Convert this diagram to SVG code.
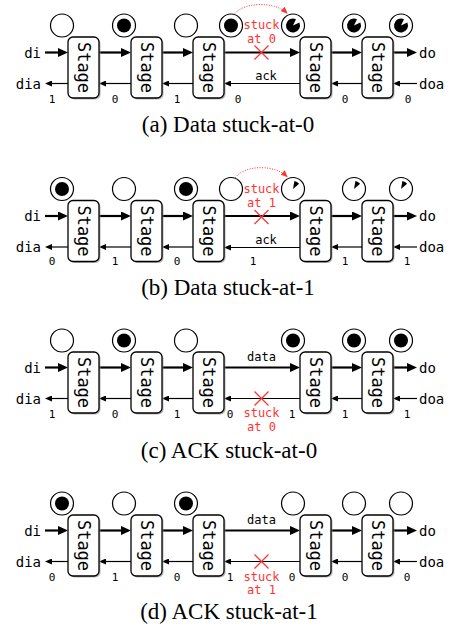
<svg xmlns="http://www.w3.org/2000/svg" xmlns:xlink="http://www.w3.org/1999/xlink" width="452" height="626" viewBox="0 0 452 626">
<style>
.sh{fill:#999;opacity:.7}
.stage rect.b{fill:#fff;stroke:#000;stroke-width:1.3}
.stage text{font-family:"DejaVu Sans Mono",monospace;font-size:17px;text-anchor:middle;dominant-baseline:central;fill:#000}
.pl{fill:#fff;stroke:#000;stroke-width:1.2}
.data{stroke:#000;stroke-width:2.2;marker-end:url(#hd)}
.ack{stroke:#000;stroke-width:1.2;marker-end:url(#ha)}
.io{font-family:"DejaVu Sans Mono",monospace;font-size:14px;fill:#000}
.num{font-family:"DejaVu Sans Mono",monospace;font-size:11px;text-anchor:middle;fill:#000}
.lbl{font-family:"DejaVu Sans Mono",monospace;font-size:12px;text-anchor:middle;fill:#000}
.stk{font-family:"DejaVu Sans Mono",monospace;font-size:12px;text-anchor:middle;fill:#f33}
.x{stroke:#f33;stroke-width:1.3}
.dot{fill:none;stroke:#f33;stroke-width:1;stroke-dasharray:1 1.5;marker-end:url(#hr)}
.cap{font-family:"Liberation Serif","Times New Roman",serif;font-size:23px;text-anchor:middle;fill:#000}
</style>
<defs>
<marker id="hd" markerUnits="userSpaceOnUse" markerWidth="10" markerHeight="9" viewBox="0 0 10 9" refX="1" refY="4.5" orient="auto"><path d="M0,0 L10,4.5 L0,9 z" fill="#000"/></marker>
<marker id="ha" markerUnits="userSpaceOnUse" markerWidth="7" markerHeight="6" viewBox="0 0 7 6" refX="1" refY="3" orient="auto"><path d="M0,0 L7,3 L0,6 z" fill="#000"/></marker>
<marker id="hr" markerUnits="userSpaceOnUse" markerWidth="7" markerHeight="6" viewBox="0 0 7 6" refX="6" refY="3" orient="auto"><path d="M0,0 L7,3 L0,6 z" fill="#f33"/></marker>
<circle id="tok" r="7" fill="#000"/>
<path id="pac" d="M0,0 L6.34,-2.96 A7,7 0 1 1 2.96,-6.34 Z" fill="#000"/>
<path id="wed" d="M0,0 L1.39,-7.88 A8,8 0 0 1 6.13,-5.14 Z" fill="#000"/>
</defs>
<rect width="452" height="626" fill="#fff"/>

<!-- ================= Panel a ================= -->
<g id="panel-a">
<g id="a-connectors">
<line class="data" x1="45" y1="52.5" x2="59" y2="52.5"/>
<line class="data" x1="99" y1="52.5" x2="122" y2="52.5"/>
<line class="data" x1="162" y1="52.5" x2="184" y2="52.5"/>
<line class="data" x1="224" y1="52.5" x2="291" y2="52.5"/>
<line class="data" x1="331" y1="52.5" x2="353" y2="52.5"/>
<line class="data" x1="393" y1="52.5" x2="408" y2="52.5"/>
<line class="ack" x1="68" y1="83.5" x2="51" y2="83.5"/>
<line class="ack" x1="131" y1="83.5" x2="105" y2="83.5"/>
<line class="ack" x1="193" y1="83.5" x2="168" y2="83.5"/>
<line class="ack" x1="300" y1="83.5" x2="230" y2="83.5"/>
<line class="ack" x1="362" y1="83.5" x2="337" y2="83.5"/>
<line class="ack" x1="417" y1="83.5" x2="399" y2="83.5"/>
<path class="dot" d="M234,14.5 C243,2 274,1 287,13"/>
</g>
<g id="a-stage1" class="stage"><rect class="sh" x="69.5" y="38.5" width="31" height="61" rx="5"/><rect class="b" x="68" y="37" width="31" height="61" rx="5"/><text x="83.5" y="67.5" transform="rotate(90 83.5 67.5)">Stage</text></g>
<g id="a-stage2" class="stage"><rect class="sh" x="132.5" y="38.5" width="31" height="61" rx="5"/><rect class="b" x="131" y="37" width="31" height="61" rx="5"/><text x="146.5" y="67.5" transform="rotate(90 146.5 67.5)">Stage</text></g>
<g id="a-stage3" class="stage"><rect class="sh" x="194.5" y="38.5" width="31" height="61" rx="5"/><rect class="b" x="193" y="37" width="31" height="61" rx="5"/><text x="208.5" y="67.5" transform="rotate(90 208.5 67.5)">Stage</text></g>
<g id="a-stage4" class="stage"><rect class="sh" x="301.5" y="38.5" width="31" height="61" rx="5"/><rect class="b" x="300" y="37" width="31" height="61" rx="5"/><text x="315.5" y="67.5" transform="rotate(90 315.5 67.5)">Stage</text></g>
<g id="a-stage5" class="stage"><rect class="sh" x="363.5" y="38.5" width="31" height="61" rx="5"/><rect class="b" x="362" y="37" width="31" height="61" rx="5"/><text x="377.5" y="67.5" transform="rotate(90 377.5 67.5)">Stage</text></g>
<g id="a-places">
<circle class="pl" cx="62" cy="25.5" r="11.5"/>
<circle class="pl" cx="124" cy="25.5" r="11.5"/><use href="#tok" x="124" y="25.5"/>
<circle class="pl" cx="186" cy="25.5" r="11.5"/>
<circle class="pl" cx="231" cy="25.5" r="11.5"/><use href="#tok" x="231" y="25.5"/>
<circle class="pl" cx="293" cy="25.5" r="11.5"/><use href="#pac" x="293" y="25.5"/>
<circle class="pl" cx="354" cy="25.5" r="11.5"/><use href="#pac" x="354" y="25.5"/>
<circle class="pl" cx="401" cy="25.5" r="11.5"/><use href="#pac" x="401" y="25.5"/>
</g>
<g id="a-labels">
<text class="io" x="41" y="57.5" text-anchor="end">di</text>
<text class="io" x="41" y="88.5" text-anchor="end">dia</text>
<text class="io" x="419" y="57.5">do</text>
<text class="io" x="419" y="88.5">doa</text>
<text class="lbl" x="266" y="80">ack</text>
<text class="num" x="52" y="102.5">1</text>
<text class="num" x="115" y="102.5">0</text>
<text class="num" x="177" y="102.5">1</text>
<text class="num" x="238" y="102.5">0</text>
<text class="num" x="345" y="102.5">0</text>
<text class="num" x="408" y="102.5">0</text>
</g>
<g id="a-fault">
<text class="stk" x="261.5" y="29">stuck</text>
<text class="stk" x="261.5" y="42.5">at 0</text>
<line class="x" x1="254.5" y1="45.5" x2="268.5" y2="59.5"/>
<line class="x" x1="268.5" y1="45.5" x2="254.5" y2="59.5"/>
</g>
<text class="cap" x="228" y="132">(a) Data stuck-at-0</text>
</g>

<!-- ================= Panel b ================= -->
<g id="panel-b">
<g id="b-connectors">
<line class="data" x1="45" y1="216" x2="59" y2="216"/>
<line class="data" x1="99" y1="216" x2="122" y2="216"/>
<line class="data" x1="162" y1="216" x2="184" y2="216"/>
<line class="data" x1="224" y1="216" x2="291" y2="216"/>
<line class="data" x1="331" y1="216" x2="353" y2="216"/>
<line class="data" x1="393" y1="216" x2="408" y2="216"/>
<line class="ack" x1="68" y1="247" x2="51" y2="247"/>
<line class="ack" x1="131" y1="247" x2="105" y2="247"/>
<line class="ack" x1="193" y1="247" x2="168" y2="247"/>
<line class="ack" x1="300" y1="247.5" x2="230" y2="247.5"/>
<line class="ack" x1="362" y1="247" x2="337" y2="247"/>
<line class="ack" x1="417" y1="247" x2="399" y2="247"/>
<path class="dot" d="M235,178 C244,165 274,164 287,176.5"/>
</g>
<g id="b-stage1" class="stage"><rect class="sh" x="69.5" y="202" width="31" height="61" rx="5"/><rect class="b" x="68" y="200.5" width="31" height="61" rx="5"/><text x="83.5" y="231" transform="rotate(90 83.5 231)">Stage</text></g>
<g id="b-stage2" class="stage"><rect class="sh" x="132.5" y="202" width="31" height="61" rx="5"/><rect class="b" x="131" y="200.5" width="31" height="61" rx="5"/><text x="146.5" y="231" transform="rotate(90 146.5 231)">Stage</text></g>
<g id="b-stage3" class="stage"><rect class="sh" x="194.5" y="202" width="31" height="61" rx="5"/><rect class="b" x="193" y="200.5" width="31" height="61" rx="5"/><text x="208.5" y="231" transform="rotate(90 208.5 231)">Stage</text></g>
<g id="b-stage4" class="stage"><rect class="sh" x="301.5" y="202" width="31" height="61" rx="5"/><rect class="b" x="300" y="200.5" width="31" height="61" rx="5"/><text x="315.5" y="231" transform="rotate(90 315.5 231)">Stage</text></g>
<g id="b-stage5" class="stage"><rect class="sh" x="363.5" y="202" width="31" height="61" rx="5"/><rect class="b" x="362" y="200.5" width="31" height="61" rx="5"/><text x="377.5" y="231" transform="rotate(90 377.5 231)">Stage</text></g>
<g id="b-places">
<circle class="pl" cx="62" cy="189" r="11.5"/><use href="#tok" x="62" y="189"/>
<circle class="pl" cx="124" cy="189" r="11.5"/>
<circle class="pl" cx="186" cy="189" r="11.5"/><use href="#tok" x="186" y="189"/>
<circle class="pl" cx="231" cy="189" r="11.5"/>
<circle class="pl" cx="293" cy="189" r="11.5"/><use href="#wed" x="293" y="189"/>
<circle class="pl" cx="354" cy="189" r="11.5"/><use href="#wed" x="354" y="189"/>
<circle class="pl" cx="401" cy="189" r="11.5"/><use href="#wed" x="401" y="189"/>
</g>
<g id="b-labels">
<text class="io" x="41" y="221" text-anchor="end">di</text>
<text class="io" x="41" y="252" text-anchor="end">dia</text>
<text class="io" x="419" y="221">do</text>
<text class="io" x="419" y="252">doa</text>
<text class="lbl" x="266" y="243.5">ack</text>
<text class="num" x="52" y="265">0</text>
<text class="num" x="115" y="265">1</text>
<text class="num" x="177" y="265">0</text>
<text class="num" x="253" y="265">1</text>
<text class="num" x="345" y="265">1</text>
<text class="num" x="407" y="265">1</text>
</g>
<g id="b-fault">
<text class="stk" x="261.5" y="193">stuck</text>
<text class="stk" x="261.5" y="206.5">at 1</text>
<line class="x" x1="254.5" y1="210" x2="268.5" y2="224"/>
<line class="x" x1="268.5" y1="210" x2="254.5" y2="224"/>
</g>
<text class="cap" x="228" y="295">(b) Data stuck-at-1</text>
</g>

<!-- ================= Panel c ================= -->
<g id="panel-c">
<g id="c-connectors">
<line class="data" x1="45" y1="367.5" x2="59" y2="367.5"/>
<line class="data" x1="99" y1="367.5" x2="122" y2="367.5"/>
<line class="data" x1="162" y1="367.5" x2="184" y2="367.5"/>
<line class="data" x1="224" y1="367.5" x2="291" y2="367.5"/>
<line class="data" x1="331" y1="367.5" x2="353" y2="367.5"/>
<line class="data" x1="393" y1="367.5" x2="408" y2="367.5"/>
<line class="ack" x1="68" y1="398.5" x2="51" y2="398.5"/>
<line class="ack" x1="131" y1="398.5" x2="105" y2="398.5"/>
<line class="ack" x1="193" y1="398.5" x2="168" y2="398.5"/>
<line class="ack" x1="300" y1="398.5" x2="230" y2="398.5"/>
<line class="ack" x1="362" y1="398.5" x2="337" y2="398.5"/>
<line class="ack" x1="417" y1="398.5" x2="399" y2="398.5"/>
</g>
<g id="c-stage1" class="stage"><rect class="sh" x="69.5" y="353.5" width="31" height="61" rx="5"/><rect class="b" x="68" y="352" width="31" height="61" rx="5"/><text x="83.5" y="382.5" transform="rotate(90 83.5 382.5)">Stage</text></g>
<g id="c-stage2" class="stage"><rect class="sh" x="132.5" y="353.5" width="31" height="61" rx="5"/><rect class="b" x="131" y="352" width="31" height="61" rx="5"/><text x="146.5" y="382.5" transform="rotate(90 146.5 382.5)">Stage</text></g>
<g id="c-stage3" class="stage"><rect class="sh" x="194.5" y="353.5" width="31" height="61" rx="5"/><rect class="b" x="193" y="352" width="31" height="61" rx="5"/><text x="208.5" y="382.5" transform="rotate(90 208.5 382.5)">Stage</text></g>
<g id="c-stage4" class="stage"><rect class="sh" x="301.5" y="353.5" width="31" height="61" rx="5"/><rect class="b" x="300" y="352" width="31" height="61" rx="5"/><text x="315.5" y="382.5" transform="rotate(90 315.5 382.5)">Stage</text></g>
<g id="c-stage5" class="stage"><rect class="sh" x="363.5" y="353.5" width="31" height="61" rx="5"/><rect class="b" x="362" y="352" width="31" height="61" rx="5"/><text x="377.5" y="382.5" transform="rotate(90 377.5 382.5)">Stage</text></g>
<g id="c-places">
<circle class="pl" cx="62" cy="340.5" r="11.5"/>
<circle class="pl" cx="124" cy="340.5" r="11.5"/><use href="#tok" x="124" y="340.5"/>
<circle class="pl" cx="186" cy="340.5" r="11.5"/>
<circle class="pl" cx="293" cy="340.5" r="11.5"/><use href="#tok" x="293" y="340.5"/>
<circle class="pl" cx="354" cy="340.5" r="11.5"/><use href="#tok" x="354" y="340.5"/>
<circle class="pl" cx="401" cy="340.5" r="11.5"/><use href="#tok" x="401" y="340.5"/>
</g>
<g id="c-labels">
<text class="io" x="41" y="372.5" text-anchor="end">di</text>
<text class="io" x="41" y="403.5" text-anchor="end">dia</text>
<text class="io" x="419" y="372.5">do</text>
<text class="io" x="419" y="403.5">doa</text>
<text class="lbl" x="261.5" y="361">data</text>
<text class="num" x="52" y="417.5">1</text>
<text class="num" x="115" y="417.5">0</text>
<text class="num" x="177" y="417.5">1</text>
<text class="num" x="230" y="417.5">0</text>
<text class="num" x="292" y="417.5">1</text>
<text class="num" x="345" y="417.5">1</text>
<text class="num" x="407" y="417.5">1</text>
</g>
<g id="c-fault">
<line class="x" x1="254.5" y1="391.5" x2="268.5" y2="405.5"/>
<line class="x" x1="268.5" y1="391.5" x2="254.5" y2="405.5"/>
<text class="stk" x="261.5" y="417">stuck</text>
<text class="stk" x="261.5" y="430.5">at 0</text>
</g>
<text class="cap" x="229" y="457.5">(c) ACK stuck-at-0</text>
</g>

<!-- ================= Panel d ================= -->
<g id="panel-d">
<g id="d-connectors">
<line class="data" x1="45" y1="530.5" x2="59" y2="530.5"/>
<line class="data" x1="99" y1="530.5" x2="122" y2="530.5"/>
<line class="data" x1="162" y1="530.5" x2="184" y2="530.5"/>
<line class="data" x1="224" y1="530.5" x2="291" y2="530.5"/>
<line class="data" x1="331" y1="530.5" x2="353" y2="530.5"/>
<line class="data" x1="393" y1="530.5" x2="408" y2="530.5"/>
<line class="ack" x1="68" y1="561.5" x2="51" y2="561.5"/>
<line class="ack" x1="131" y1="561.5" x2="105" y2="561.5"/>
<line class="ack" x1="193" y1="561.5" x2="168" y2="561.5"/>
<line class="ack" x1="300" y1="561.5" x2="230" y2="561.5"/>
<line class="ack" x1="362" y1="561.5" x2="337" y2="561.5"/>
<line class="ack" x1="417" y1="561.5" x2="399" y2="561.5"/>
</g>
<g id="d-stage1" class="stage"><rect class="sh" x="69.5" y="516.5" width="31" height="61" rx="5"/><rect class="b" x="68" y="515" width="31" height="61" rx="5"/><text x="83.5" y="545.5" transform="rotate(90 83.5 545.5)">Stage</text></g>
<g id="d-stage2" class="stage"><rect class="sh" x="132.5" y="516.5" width="31" height="61" rx="5"/><rect class="b" x="131" y="515" width="31" height="61" rx="5"/><text x="146.5" y="545.5" transform="rotate(90 146.5 545.5)">Stage</text></g>
<g id="d-stage3" class="stage"><rect class="sh" x="194.5" y="516.5" width="31" height="61" rx="5"/><rect class="b" x="193" y="515" width="31" height="61" rx="5"/><text x="208.5" y="545.5" transform="rotate(90 208.5 545.5)">Stage</text></g>
<g id="d-stage4" class="stage"><rect class="sh" x="301.5" y="516.5" width="31" height="61" rx="5"/><rect class="b" x="300" y="515" width="31" height="61" rx="5"/><text x="315.5" y="545.5" transform="rotate(90 315.5 545.5)">Stage</text></g>
<g id="d-stage5" class="stage"><rect class="sh" x="363.5" y="516.5" width="31" height="61" rx="5"/><rect class="b" x="362" y="515" width="31" height="61" rx="5"/><text x="377.5" y="545.5" transform="rotate(90 377.5 545.5)">Stage</text></g>
<g id="d-places">
<circle class="pl" cx="62" cy="503.5" r="11.5"/><use href="#tok" x="62" y="503.5"/>
<circle class="pl" cx="124" cy="503.5" r="11.5"/>
<circle class="pl" cx="186" cy="503.5" r="11.5"/><use href="#tok" x="186" y="503.5"/>
<circle class="pl" cx="293" cy="503.5" r="11.5"/>
<circle class="pl" cx="354" cy="503.5" r="11.5"/>
<circle class="pl" cx="401" cy="503.5" r="11.5"/>
</g>
<g id="d-labels">
<text class="io" x="41" y="535.5" text-anchor="end">di</text>
<text class="io" x="41" y="566.5" text-anchor="end">dia</text>
<text class="io" x="419" y="535.5">do</text>
<text class="io" x="419" y="566.5">doa</text>
<text class="lbl" x="261.5" y="524">data</text>
<text class="num" x="52" y="580.5">0</text>
<text class="num" x="115" y="580.5">1</text>
<text class="num" x="177" y="580.5">0</text>
<text class="num" x="230" y="580.5">1</text>
<text class="num" x="292" y="580.5">0</text>
<text class="num" x="345" y="580.5">0</text>
<text class="num" x="407" y="580.5">0</text>
</g>
<g id="d-fault">
<line class="x" x1="254.5" y1="554.5" x2="268.5" y2="568.5"/>
<line class="x" x1="268.5" y1="554.5" x2="254.5" y2="568.5"/>
<text class="stk" x="261.5" y="580.5">stuck</text>
<text class="stk" x="261.5" y="594">at 1</text>
</g>
<text class="cap" x="229" y="619">(d) ACK stuck-at-1</text>
</g>
</svg>
